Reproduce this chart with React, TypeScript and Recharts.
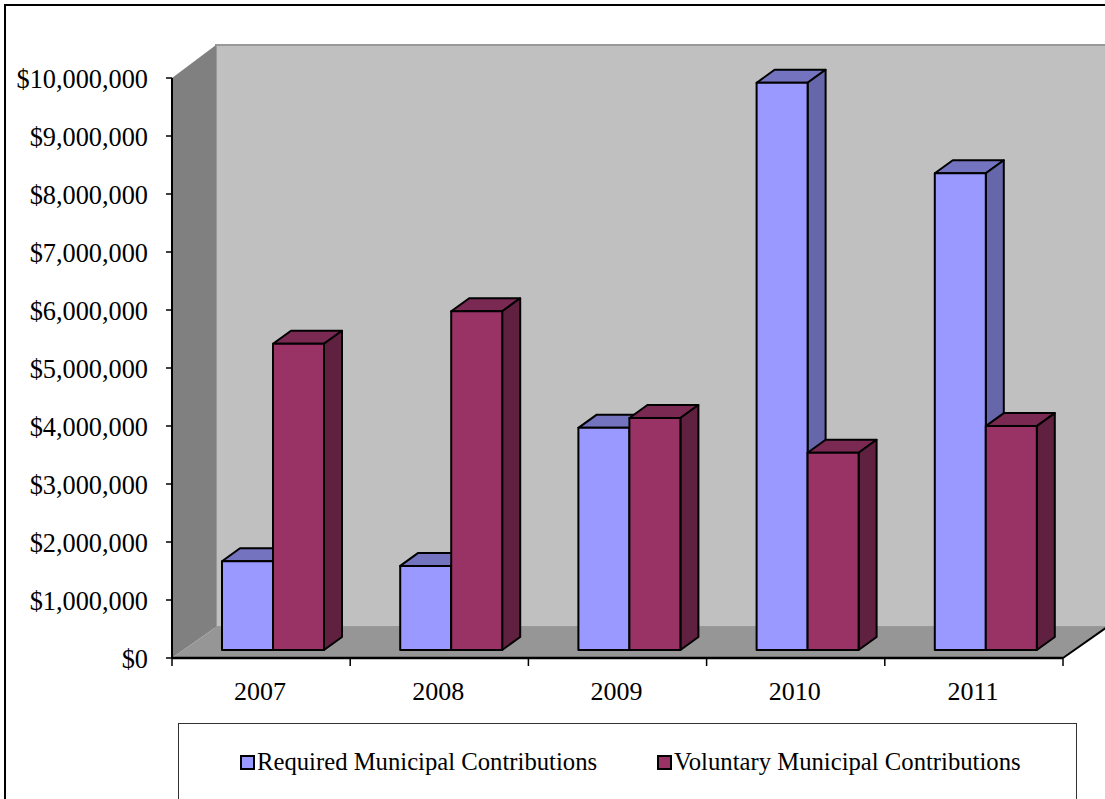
import { Bar, BarChart, Legend, ReferenceArea, XAxis, YAxis } from "recharts";

const YEARS = ["2007", "2008", "2009", "2010", "2011"];
const REQUIRED = [1530000, 1450000, 3830000, 9780000, 8220000];
const VOLUNTARY = [5280000, 5840000, 4000000, 3400000, 3860000];
const Y_TICKS = [0, 1000000, 2000000, 3000000, 4000000, 5000000, 6000000, 7000000, 8000000, 9000000, 10000000];

const rows = YEARS.map((year, i) => ({ year, required: REQUIRED[i], voluntary: VOLUNTARY[i] }));

const FONT = "'Liberation Serif', 'Times New Roman', serif";
const WALL_DX = 44;
const WALL_DY = 31;
const BAR_DX = 12;
const BAR_DY = 8;
const SIDE_DX = 18;
const SIDE_DY = 13;

const money = (v: number) => "$" + v.toLocaleString("en-US");

// the grey box behind the bars: left wall, back wall and floor
function Walls({ x, y, width, height }: any) {
  const bottom = y + height;
  const right = x + width;
  return (
    <g>
      <polygon
        points={`${x + WALL_DX},${y - 33} ${right + WALL_DX},${y - 33} ${right + WALL_DX},${bottom - WALL_DY} ${x + WALL_DX},${bottom - WALL_DY}`}
        fill="#c0c0c0"
        stroke="#999999"
        strokeWidth={2}
      />
      <polygon
        points={`${x},${y} ${x + WALL_DX},${y - 33} ${x + WALL_DX},${bottom - WALL_DY} ${x},${bottom}`}
        fill="#808080"
      />
      <polygon
        points={`${x},${bottom} ${x + WALL_DX},${bottom - WALL_DY} ${right + WALL_DX},${bottom - WALL_DY} ${right},${bottom}`}
        fill="#969696"
      />
      <line x1={right} y1={bottom} x2={right + WALL_DX} y2={bottom - WALL_DY} stroke="#000" strokeWidth={2} />
    </g>
  );
}

// 3D column, shifted off the axis the way the old Excel charts did
function Bar3D({ x, y, width, height, fill, sideFill, topFill }: any) {
  const l = x + BAR_DX;
  const r = l + width;
  const t = y - BAR_DY;
  const b = y + height - BAR_DY;
  return (
    <g stroke="#000" strokeWidth={2} strokeLinejoin="round">
      <polygon
        points={`${l},${t} ${l + SIDE_DX},${t - SIDE_DY} ${r + SIDE_DX},${t - SIDE_DY} ${r},${t}`}
        fill={topFill}
      />
      <polygon
        points={`${r},${t} ${r + SIDE_DX},${t - SIDE_DY} ${r + SIDE_DX},${b - SIDE_DY} ${r},${b}`}
        fill={sideFill}
      />
      <rect x={l} y={t} width={width} height={b - t} fill={fill} />
    </g>
  );
}

function YearTick({ x, y, index, payload }: any) {
  const half = 89.1;
  return (
    <g>
      <line x1={x - half} y1={y - 8} x2={x - half} y2={y} stroke="#000" strokeWidth={1.5} />
      {index === YEARS.length - 1 && (
        <line x1={x + half} y1={y - 8} x2={x + half} y2={y} stroke="#000" strokeWidth={1.5} />
      )}
      <text x={x - 1} y={y + 34} textAnchor="middle" fontFamily={FONT} fontSize={26} fill="#000">
        {payload.value}
      </text>
    </g>
  );
}

function LegendBox({ payload }: any) {
  return (
    <div
      style={{
        display: "flex",
        fontFamily: FONT,
        fontSize: 24.7,
        color: "#000",
        paddingLeft: 61,
        paddingTop: 22,
        lineHeight: "32px",
        whiteSpace: "nowrap",
      }}
    >
      {(payload ?? []).map((p: any) => (
        <div key={p.value} style={{ display: "flex", alignItems: "center", marginRight: 60 }}>
          <span
            style={{
              width: 11,
              height: 11,
              background: p.color,
              border: "2px solid #000",
              marginRight: 2,
            }}
          />
          {p.value}
        </div>
      ))}
    </div>
  );
}

export default function App() {
  return (
    <div style={{ position: "absolute", left: 0, top: 0, width: 1105, height: 799, overflow: "hidden", background: "#fff" }}>
      <div
        style={{
          position: "absolute",
          left: 4,
          top: 4,
          width: 1101,
          height: 795,
          borderLeft: "2px solid #000",
          borderTop: "2px solid #000",
          boxSizing: "border-box",
        }}
      />
      <div style={{ position: "absolute", left: 0, top: 0 }}>
        <BarChart
          width={1105}
          height={799}
          data={rows}
          margin={{ top: 78, right: 42, bottom: 81, left: 0 }}
          barSize={51}
          barGap={0}
        >
          <ReferenceArea y1={0} y2={10000000} ifOverflow="visible" shape={<Walls />} />
          <XAxis
            dataKey="year"
            height={60}
            axisLine={{ stroke: "#000", strokeWidth: 2.5 }}
            tickLine={false}
            tick={<YearTick />}
            interval={0}
          />
          <YAxis
            width={172}
            domain={[0, 10000000]}
            ticks={Y_TICKS}
            interval={0}
            tickFormatter={money}
            tickSize={6}
            tickMargin={18}
            axisLine={{ stroke: "#000", strokeWidth: 2 }}
            tickLine={{ stroke: "#000", strokeWidth: 1.5 }}
            tick={{ fontFamily: FONT, fontSize: 26.3, fill: "#000", dy: 1 }}
          />
          <Legend
            verticalAlign="middle"
            content={<LegendBox />}
            wrapperStyle={{
              position: "absolute",
              left: 178,
              top: 723,
              width: 899,
              height: 100,
              border: "1.5px solid #333",
              boxSizing: "border-box",
              background: "#fff",
            }}
          />
          <Bar
            dataKey="required"
            name="Required Municipal Contributions"
            fill="#9999ff"
            isAnimationActive={false}
            shape={<Bar3D sideFill="#6666aa" topFill="#7373bf" />}
          />
          <Bar
            dataKey="voluntary"
            name="Voluntary Municipal Contributions"
            fill="#993366"
            isAnimationActive={false}
            shape={<Bar3D sideFill="#602040" topFill="#7a2952" />}
          />
        </BarChart>
      </div>
    </div>
  );
}
